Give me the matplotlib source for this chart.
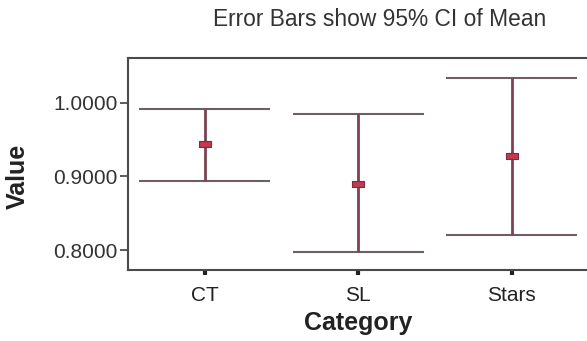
import matplotlib
matplotlib.use("Agg")
import matplotlib.pyplot as plt
import numpy as np

categories = ["CT", "SL", "Stars"]
means = [0.9436, 0.8891, 0.9277]
lower = [0.8942, 0.7969, 0.8204]
upper = [0.9910, 0.9851, 1.0339]
yticks = [0.8, 0.9, 1.0]
ytick_labels = ["0.8000", "0.9000", "1.0000"]

plt.rcParams['font.family'] = ['Liberation Sans', 'DejaVu Sans']

fig = plt.figure(figsize=(5.87, 3.41), dpi=100)
ax = fig.add_axes([128/587, 1-270/341, (588.5-128)/587, (270-58)/341])

x = np.arange(len(categories))
cap_half = 0.427
cap_color = "#6e5f63"
line_color = "#7b4350"

ax.hlines(upper, x - cap_half, x + cap_half, color=cap_color, lw=1.5, zorder=2)
ax.hlines(lower, x - cap_half, x + cap_half, color=cap_color, lw=1.5, zorder=2)
ax.vlines(x, lower, upper, color=line_color, lw=2.0, zorder=3)
rect = [(-1, -0.55), (1, -0.55), (1, 0.55), (-1, 0.55), (-1, -0.55)]
ax.plot(x, means, linestyle="none", marker=rect, markersize=8,
        markerfacecolor="#c23a52", markeredgecolor="#7a2e3e", markeredgewidth=0.8, zorder=4)

ax.set_xlim(-0.5, 2.5)
ax.set_ylim(0.7729, 1.0607)
ax.set_yticks(yticks)
ax.set_yticklabels(ytick_labels, fontsize=15, color="#333333")
ax.set_xticks(x)
ax.set_xticklabels(categories, fontsize=15, color="#222222")
ax.tick_params(axis="y", direction="out", length=6, width=1.2, color="#404040", pad=1.5)
ax.tick_params(axis="x", direction="out", length=3.5, width=3, color="#222222", pad=8)

for s in ax.spines.values():
    s.set_color("#4a4a4a")
    s.set_linewidth(1.5)

ax.set_xlabel("Category", fontsize=18, fontweight="bold", color="#222222", labelpad=4)

fig.text(18/587, 1-176/341, "Value", fontsize=18, fontweight="bold", color="#222222",
         rotation=90, ha="center", va="center")

fig.text(380/587, 1-20/341, "Error Bars show 95% CI of Mean", fontsize=16.4,
         ha="center", va="center", color="#333333")

fig.savefig("out.png", dpi=100)
